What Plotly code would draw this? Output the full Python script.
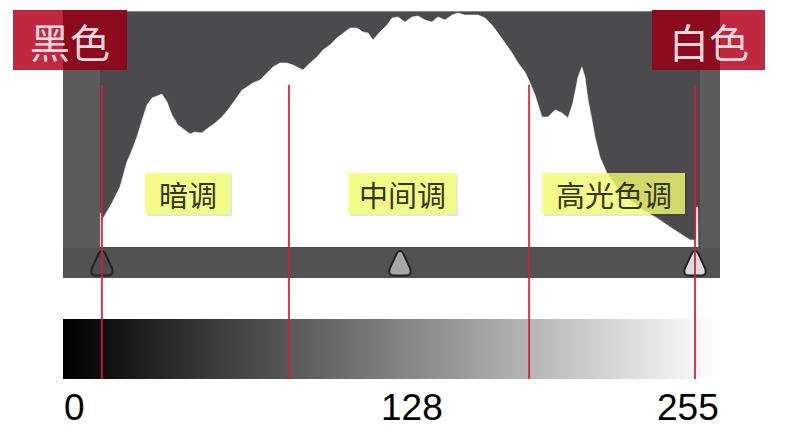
import numpy as np
import plotly.graph_objects as go

# ---------------- data ----------------
# Histogram profile: tonal level (0-255) and relative pixel count (0-100)
hist_levels = [14.5, 14.5, 15.0, 15.1, 16.3, 19.0, 22.1, 24.8, 26.8, 28.7, 30.7, 32.6, 34.5, 36.5,
               38.4, 40.4, 42.3, 44.6, 47.4, 49.3, 51.2, 53.9, 56.3, 59.0, 61.7, 64.0, 66.8, 69.5,
               71.4, 73.7, 76.5, 79.2, 81.5, 84.2, 86.9, 89.3, 92.0, 93.1, 95.9, 98.6, 100.9, 103.6,
               106.3, 108.7, 111.4, 114.1, 116.4, 118.4, 120.3, 123.0, 125.8, 127.7, 130.0, 132.7,
               135.5, 137.8, 140.5, 143.2, 145.5, 148.3, 151.0, 153.3, 156.0, 158.7, 161.1, 163.8,
               166.5, 168.8, 171.6, 174.3, 176.6, 179.3, 181.3, 183.2, 185.9, 188.2, 191.0, 193.7,
               196.0, 197.9, 199.9, 201.4, 202.6, 203.8, 205.3, 206.5, 208.4, 211.1, 215.0, 220.1,
               225.1, 230.5, 235.6, 239.5, 243.4, 245.7, 245.9, 246.3, 246.5]
hist_counts = [0, 14.4, 14.4, 11.4, 13.6, 18.6, 25.4, 36.0, 41.1, 46.6, 53.8, 60.2, 63.1, 64.0,
               64.8, 61.4, 55.9, 51.7, 49.6, 47.9, 48.7, 48.3, 50.4, 52.5, 55.1, 58.1, 62.3, 66.5,
               67.8, 69.5, 70.8, 73.7, 76.3, 78.0, 78.0, 77.1, 75.8, 75.0, 78.0, 80.5, 83.5, 85.6,
               88.6, 90.7, 92.8, 92.8, 91.1, 90.7, 87.7, 91.1, 94.1, 97.0, 97.5, 95.3,
               97.5, 97.9, 96.2, 95.3, 97.5, 96.2, 98.3, 99.2, 98.3, 98.3, 98.3, 97.0,
               94.1, 90.7, 86.4, 82.2, 78.0, 74.2, 69.5, 64.4, 55.1, 55.1, 58.1, 56.8,
               54.7, 61.0, 72.0, 76.3, 72.0, 62.3, 53.8, 46.6, 38.1, 31.4, 25.4, 19.9,
               15.7, 12.3, 8.5, 5.9, 3.0, 3.0, 16.9, 16.9, 0]

divider_levels = [15.1, 87.7, 180.9, 245.3]      # red tonal boundary lines
slider_levels = [15.1, 130.8, 245.3]             # black point, midtone, white point
gradient_levels = list(range(256))
tick_labels = ["0", "128", "255"]
zone_labels = ["暗调", "中间调", "高光色调"]
point_labels = ["黑色", "白色"]

# ---------------- geometry helpers (pixel -> data) ----------------
W, H = 790, 435
X0_PX, SX = 63.0, 657.0 / 255.0     # level 0 at px 63, level 255 at px 720
Y0_PX, SY = 247.0, 2.36             # count 0 at px 247, count 100 at px 11


def X(px):
    return (px - X0_PX) / SX


def Y(py):
    return (Y0_PX - py) / SY


def LX(level):
    return X0_PX + level * SX


def rect(x0, y0, x1, y1, color, layer="below"):
    return dict(type="rect", xref="x", yref="y", x0=X(x0), x1=X(x1), y0=Y(y0), y1=Y(y1),
                fillcolor=color, line=dict(width=0), layer=layer)


shapes = []
# outer frame, inner histogram well, bottom slider strip
shapes.append(rect(63, 11, 720, 278, "#5b5b5b"))
shapes.append(rect(100, 11, 700, 248, "#4b4b4d"))
shapes.append(rect(63, 248, 720, 278, "#525252"))
shapes.append(dict(type="line", xref="x", yref="y", x0=X(63), x1=X(720), y0=Y(11.5), y1=Y(11.5),
                   line=dict(color="#8a8a8a", width=1), layer="below"))

# slider triangles
tri_fills = ["#4e4e4e", "#a8a8a8", "#dcdcdc"]
for lv, fc in zip(slider_levels, tri_fills):
    cx = LX(lv)
    pts = [("M", cx - 3, 253), ("L", cx - 10, 268), ("Q", cx - 12.5, 275.5, cx - 6, 275.5),
           ("L", cx + 6, 275.5), ("Q", cx + 12.5, 275.5, cx + 10, 268), ("L", cx + 3, 253),
           ("Q", cx, 248.5, cx - 3, 253)]
    path = ""
    for p in pts:
        cmd = p[0]
        coords = p[1:]
        s = " ".join(f"{X(coords[i]):.3f},{Y(coords[i + 1]):.3f}" for i in range(0, len(coords), 2))
        path += f"{cmd} {s} "
    path += "Z"
    shapes.append(dict(type="path", xref="x", yref="y", path=path, fillcolor=fc,
                       line=dict(color="#222222", width=2), layer="below"))

fig = go.Figure()

# histogram
fig.add_trace(go.Scatter(x=hist_levels, y=hist_counts, mode="lines", fill="tozeroy",
                         fillcolor="#ffffff", line=dict(color="#ffffff", width=0.5),
                         hoverinfo="skip", showlegend=False))

# gradient bar 0..255
dx = 255.0 / 256.0
fig.add_trace(go.Heatmap(z=[gradient_levels], x0=dx / 2, dx=dx, y0=(Y(319) + Y(379)) / 2,
                         dy=Y(319) - Y(379), colorscale=[[0, "#000000"], [1, "#ffffff"]],
                         zmin=0, zmax=255, showscale=False, hoverinfo="skip"))

# red divider lines
for lv in divider_levels:
    fig.add_trace(go.Scatter(x=[lv, lv], y=[Y(85), Y(379)], mode="lines",
                             line=dict(color="rgba(212,28,60,0.88)", width=2),
                             hoverinfo="skip", showlegend=False))

# yellow zone label boxes
zone_boxes = [(145, 230), (348, 456), (542, 685)]
annotations = []
for (bx0, bx1), txt in zip(zone_boxes, zone_labels):
    shapes.append(rect(bx0 + 2, 175, bx1 + 2, 216, "rgba(0,0,0,0.10)", layer="above"))
    shapes.append(rect(bx0, 173, bx1, 214, "rgba(246,255,112,0.80)", layer="above"))
    annotations.append(dict(x=X((bx0 + bx1) / 2), y=Y(194), xref="x", yref="y", text=txt,
                            showarrow=False, xanchor="center", yanchor="middle",
                            font=dict(family="Noto Sans CJK SC", size=29, color="#35351a")))

# red point label boxes (white part / dark part)
shapes.append(rect(13, 10, 63, 70, "#c0283f", layer="above"))
shapes.append(rect(63, 10, 127, 70, "#8c0a1e", layer="above"))
shapes.append(rect(652, 10, 720, 70, "#8c0a1e", layer="above"))
shapes.append(rect(720, 10, 765, 70, "#c0283f", layer="above"))
for cx, txt in zip([70, 708.5], point_labels):
    annotations.append(dict(x=X(cx), y=Y(41), xref="x", yref="y", text=txt, showarrow=False,
                            xanchor="center", yanchor="middle",
                            font=dict(family="Noto Sans CJK SC", size=40, color="#f7d9df")))

# level tick labels
for cx, txt in zip([74, 412, 688], tick_labels):
    annotations.append(dict(x=X(cx), y=Y(407), xref="x", yref="y", text=txt, showarrow=False,
                            xanchor="center", yanchor="middle",
                            font=dict(family="Liberation Sans, Arial, sans-serif",
                                      size=37, color="#000000")))

fig.update_layout(
    width=W, height=H, margin=dict(l=0, r=0, t=0, b=0),
    paper_bgcolor="#ffffff", plot_bgcolor="#ffffff",
    xaxis=dict(range=[X(0), X(W)], visible=False, fixedrange=True),
    yaxis=dict(range=[Y(H), Y(0)], visible=False, fixedrange=True),
    shapes=shapes, annotations=annotations, showlegend=False,
)

fig.write_html("out.html")
